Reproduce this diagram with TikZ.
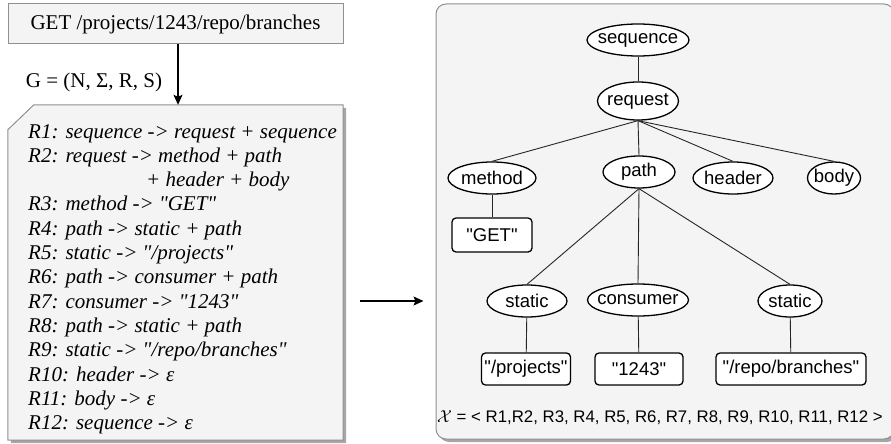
\documentclass[tikz,border=0pt]{standalone}
\usepackage{fontspec}
\setmainfont{Liberation Serif}
\newfontfamily\helv{Liberation Sans}
\usetikzlibrary{shapes.geometric,shadows,arrows.meta}
\definecolor{boxfill}{HTML}{F4F4F4}
\definecolor{boxline}{HTML}{909090}
\tikzstyle{inputbox} = [rectangle, draw=boxline, fill=boxfill, line width=1pt, minimum width=335pt, minimum height=40pt, inner sep=0pt, font=\fontsize{21}{24}\selectfont]
\tikzstyle{rulearea} = [rectangle, minimum width=335pt, minimum height=335pt, inner sep=0pt]
\tikzstyle{rulebox} = [draw=boxline, fill=boxfill, line width=1pt, drop shadow={shadow xshift=3pt, shadow yshift=-3pt, fill=black!35, opacity=1}]
\tikzstyle{treebox} = [rectangle, rounded corners=10pt, draw=boxline, fill=boxfill, line width=1pt, minimum width=458pt, minimum height=435pt, inner sep=0pt, drop shadow={shadow xshift=3pt, shadow yshift=-3pt, fill=black!35, opacity=1}]
\tikzstyle{nonterm} = [ellipse, draw, line width=1.3pt, fill=white, inner xsep=-8pt, inner ysep=0pt, minimum height=32pt, font=\helv\fontsize{18.5}{20}\selectfont]
\tikzstyle{term} = [rectangle, rounded corners=4pt, draw, line width=1.3pt, fill=white, inner xsep=0pt, minimum height=32pt, font=\helv\fontsize{18.5}{20}\selectfont]
\tikzstyle{edge} = [line width=0.9pt, black!85]
\tikzstyle{arrow} = [line width=1.4pt, -{Stealth[length=10pt, width=9pt, inset=2pt]}]
\newcommand{\qq}[1]{\textquotedbl#1\textquotedbl}

\begin{document}
\begin{tikzpicture}[x=1pt, y=-1pt]
	\clip (0,0) rectangle (891,444);
	% left: request and grammar rules
	\node (req) at (175.5, 24) [inputbox] {GET /projects/1243/repo/branches};
	\node (gram) at (94, 82) [font=\fontsize{21}{24}\selectfont] {G = (N, Σ, R, S)};
	\node (rules) at (175.5, 272.5) [rulearea] {};
	\draw[rulebox] ([yshift=-25pt]rules.north west) -- ([xshift=26pt]rules.north west) -- (rules.north east) -- (rules.south east) -- (rules.south west) -- cycle;
	\node (rulestext) at (28, 124) [anchor=north west, align=left, inner sep=0pt, font=\fontsize{21}{24.3}\selectfont\itshape] {R1: sequence -> request + sequence\\
		R2: request -> method + path\\
		\hspace*{118pt}+ header + body\\
		R3: method -> \qq{GET}\\
		R4: path -> static + path\\
		R5: static -> \qq{/projects}\\
		R6: path -> consumer + path\\
		R7: consumer -> \qq{1243}\\
		R8: path -> static + path\\
		R9: static -> \qq{/repo/branches}\\
		R10: header -> ε\\
		R11: body -> ε\\
		R12: sequence -> ε};
	\draw[arrow] ([xshift=2.5pt]req.south) -- ([xshift=2.5pt]rules.north);
	% right: derivation tree
	\node (tree) at (665, 221.5) [treebox] {};
	\coordinate (mid) at (0, 301);
	\draw[arrow, shorten <=17pt, shorten >=12pt] (rules.east |- mid) -- (tree.west |- mid);
	\node (seq) at (638, 40) [nonterm, minimum width=102pt] {sequence};
	\node (reqn) at (638, 101) [nonterm, minimum width=81pt, minimum height=38pt] {request};
	\node (method) at (492, 178) [nonterm, minimum width=88pt] {method};
	\node (path) at (639, 172) [nonterm, minimum width=72pt] {path};
	\node (header) at (733, 178) [nonterm, minimum width=80pt] {header};
	\node (body) at (834, 178) [nonterm, minimum width=53pt] {body};
	\node (get) at (492, 235) [term, minimum width=80pt, minimum height=34pt] {"GET"};
	\node (static1) at (527, 301) [nonterm, minimum width=80pt] {static};
	\node (consumer) at (638, 300) [nonterm, minimum width=101pt] {consumer};
	\node (static2) at (790, 301) [nonterm, minimum width=64pt] {static};
	\node (projects) at (526, 369) [term, minimum width=89pt] {"/projects"};
	\node (num) at (639, 369) [term, minimum width=88pt] {"1243"};
	\node (branches) at (791, 369) [term, minimum width=150pt] {"/repo/branches"};
	\node (trace) at (437, 418) [anchor=west, inner sep=0pt, font=\helv\fontsize{16.8}{20}\selectfont] {$\mathcal{X}$ = < R1,R2, R3, R4, R5, R6, R7, R8, R9, R10, R11, R12 >};
	\draw[edge] (seq) -- (reqn);
	\draw[edge] (reqn.south) -- (method.north);
	\draw[edge] (reqn.south) -- (path.north);
	\draw[edge] (reqn.south) -- (header.north);
	\draw[edge] (reqn.south) -- (body.north);
	\draw[edge] (method) -- (get);
	\draw[edge] (path.south) -- (static1.north);
	\draw[edge] (path.south) -- (consumer.north);
	\draw[edge] (path.south) -- (static2.north);
	\draw[edge] (static1) -- (projects);
	\draw[edge] (consumer) -- (num);
	\draw[edge] (static2) -- (branches);
\end{tikzpicture}
\end{document}
